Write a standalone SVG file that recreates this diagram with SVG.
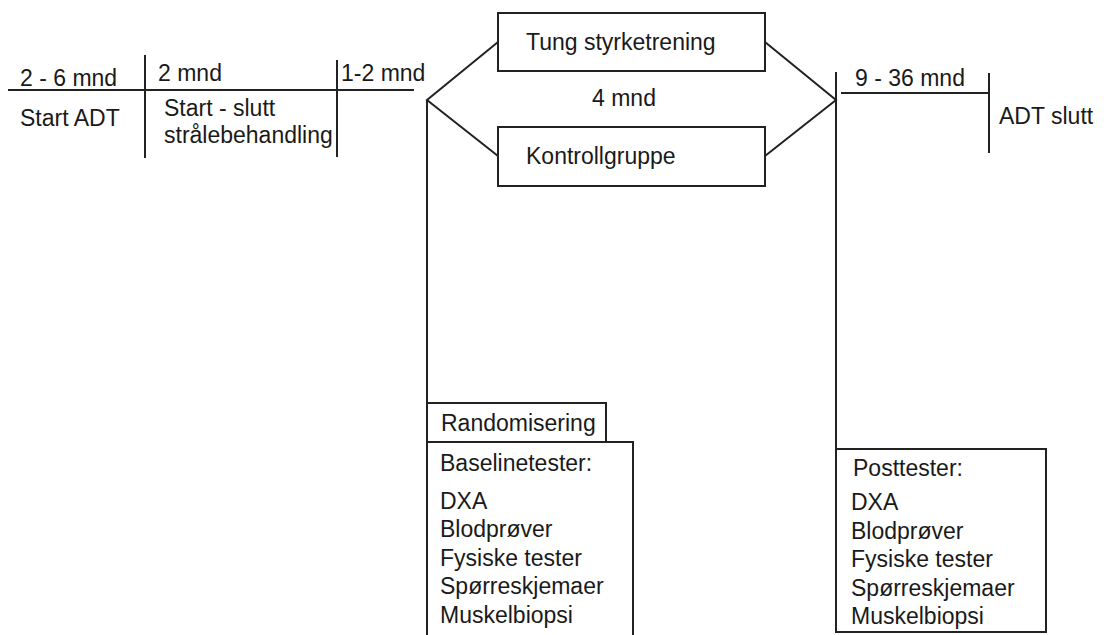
<svg xmlns="http://www.w3.org/2000/svg" width="1104" height="635" viewBox="0 0 1104 635">
<style>
text{font-family:"Liberation Sans",Arial,sans-serif;font-size:23px;fill:#1a1a1a}
.ln{stroke:#222;stroke-width:2;fill:none}
.bx{stroke:#222;stroke-width:2;fill:#fff}
</style>
<rect width="1104" height="635" fill="#fff"/>
<g id="connectors">
<line class="ln" x1="8" y1="90" x2="414" y2="90"/>
<line class="ln" x1="145" y1="55" x2="145" y2="158"/>
<line class="ln" x1="337" y1="60" x2="337" y2="157"/>
<polyline class="ln" points="498,42 427,100 498,156"/>
<polyline class="ln" points="765,42 836,100 765,156"/>
<line class="ln" x1="427" y1="100" x2="427" y2="403"/>
<line class="ln" x1="836" y1="72" x2="836" y2="449"/>
<line class="ln" x1="841" y1="93" x2="989" y2="93"/>
<line class="ln" x1="989" y1="73" x2="989" y2="153"/>
</g>
<g id="timeline-left">
<text x="20" y="86">2 - 6 mnd</text>
<text x="158" y="81">2 mnd</text>
<text x="341" y="81">1-2 mnd</text>
<text x="20" y="126">Start ADT</text>
<text x="164" y="116">Start - slutt</text>
<text x="164" y="143">strålebehandling</text>
</g>
<g id="tung">
<rect class="bx" x="498" y="13" width="267" height="58"/>
<text x="526" y="50">Tung styrketrening</text>
</g>
<g id="period">
<text x="592" y="106">4 mnd</text>
</g>
<g id="kontroll">
<rect class="bx" x="498" y="127" width="267" height="59"/>
<text x="526" y="164">Kontrollgruppe</text>
</g>
<g id="timeline-right">
<text x="855" y="86">9 - 36 mnd</text>
<text x="999" y="124">ADT slutt</text>
</g>
<g id="randomisering">
<rect class="bx" x="427" y="403" width="179" height="39"/>
<text x="441" y="431">Randomisering</text>
</g>
<g id="baseline">
<path class="ln" d="M427,640 V442 H633 V640"/>
<text x="440" y="471">Baselinetester:</text>
<text x="440" y="509">DXA</text>
<text x="440" y="537">Blodprøver</text>
<text x="440" y="566">Fysiske tester</text>
<text x="440" y="594">Spørreskjemaer</text>
<text x="440" y="623">Muskelbiopsi</text>
</g>
<g id="posttester">
<rect class="bx" x="836" y="449" width="210" height="183"/>
<text x="853" y="476">Posttester:</text>
<text x="851" y="510">DXA</text>
<text x="851" y="539">Blodprøver</text>
<text x="851" y="567">Fysiske tester</text>
<text x="851" y="596">Spørreskjemaer</text>
<text x="851" y="624">Muskelbiopsi</text>
</g>
</svg>
